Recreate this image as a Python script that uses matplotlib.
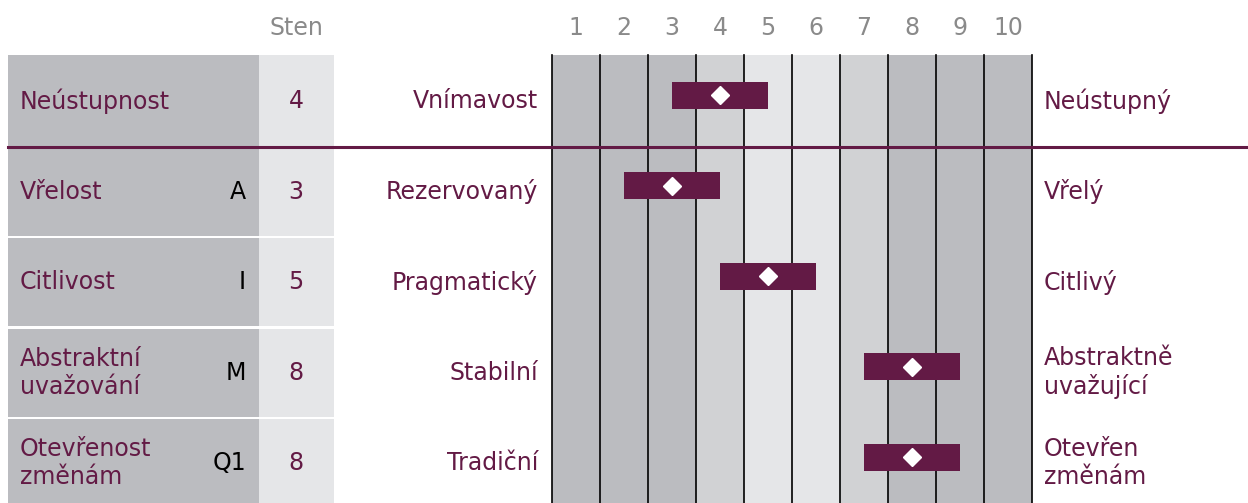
import matplotlib.pyplot as plt
import matplotlib.patches as mpatches
import numpy as np

# ------------------------------------------------------------------
# data
# ------------------------------------------------------------------
scales = ['Neústupnost', 'Vřelost', 'Citlivost', 'Abstraktní\nuvažování', 'Otevřenost\nzměnám']
codes = ['', 'A', 'I', 'M', 'Q1']
sten = [4, 3, 5, 8, 8]
left_poles = ['Vnímavost', 'Rezervovaný', 'Pragmatický', 'Stabilní', 'Tradiční']
right_poles = ['Neústupný', 'Vřelý', 'Citlivý', 'Abstraktně\nuvažující', 'Otevřen\nzměnám']
band = 1  # bar covers sten +/- band
sten_ticks = list(range(1, 11))

# ------------------------------------------------------------------
# style
# ------------------------------------------------------------------
W, H = 1248, 503
MAG = '#631a45'
DARK = '#bbbcc0'
MID = '#d1d2d4'
LIGHT = '#e5e6e8'
GREY_TXT = '#8a8a8a'
col_shade = [DARK, DARK, DARK, MID, LIGHT, LIGHT, MID, DARK, DARK, DARK]
FS = 17

plt.rcParams['font.family'] = ['DejaVu Sans']

fig = plt.figure(figsize=(W / 100, H / 100), dpi=100)

row0 = 101
row_step = 90.6
rows = np.arange(len(scales))
row_y = row0 + row_step * rows

# grid axes (sten scale)
grid_top, grid_left, grid_right = 55, 552, 1032
ax = fig.add_axes([grid_left / W, 0, (grid_right - grid_left) / W, (H - grid_top) / H])
ax.set_xlim(0.5, 10.5)
ax.set_ylim((H - row0) / row_step, -(row0 - grid_top) / row_step)
ax.axis('off')

for k, c in zip(sten_ticks, col_shade):
    ax.axvspan(k - 0.5, k + 0.5, color=c, lw=0, zorder=0)
for k in np.arange(0.5, 11, 1.0):
    ax.axvline(k, color='black', lw=1.2, zorder=1, clip_on=False)

yoff = -6 / row_step
s = np.array(sten)
ax.barh(rows + yoff, 2 * band, left=s - band, height=27 / row_step, color=MAG, zorder=3)
ax.plot(s, rows + yoff, ls='none', marker='D', ms=9.5, mfc='white', mec='white', zorder=4)

# overlay axes in pixel coordinates for table / labels (drawn on top)
bg = fig.add_axes([0, 0, 1, 1])
bg.set_xlim(0, W)
bg.set_ylim(H, 0)
bg.axis('off')
bg.patch.set_alpha(0)
bg.set_zorder(2)

# header
bg.text(296, 28, 'Sten', color=GREY_TXT, fontsize=FS, ha='center', va='center')
for k in sten_ticks:
    xk = grid_left + (k - 0.5) * (grid_right - grid_left) / 10
    bg.text(xk, 28, str(k), color=GREY_TXT, fontsize=FS, ha='center', va='center')

# table cells
for i, y in enumerate(row_y):
    top = grid_top if i == 0 else y - 44
    bottom = y + 45 if i == 0 else y + 44
    bg.add_patch(mpatches.Rectangle((8, top), 251, bottom - top, color=DARK, lw=0))
    bg.add_patch(mpatches.Rectangle((259, top), 75, bottom - top, color=LIGHT, lw=0))
    bg.text(20, y, scales[i], color=MAG, fontsize=FS, ha='left', va='center', linespacing=1.2)
    if codes[i]:
        bg.text(246, y, codes[i], color='black', fontsize=FS, ha='right', va='center')
    bg.text(296, y, str(sten[i]), color=MAG, fontsize=FS, ha='center', va='center')
    bg.text(538, y, left_poles[i], color=MAG, fontsize=FS, ha='right', va='center')
    bg.text(1044, y, right_poles[i], color=MAG, fontsize=FS, ha='left', va='center', linespacing=1.2)

# separator line under first row
bg.plot([8, W], [147, 147], color=MAG, lw=2.2, zorder=5)

fig.savefig('out.png', dpi=100)
plt.close()
